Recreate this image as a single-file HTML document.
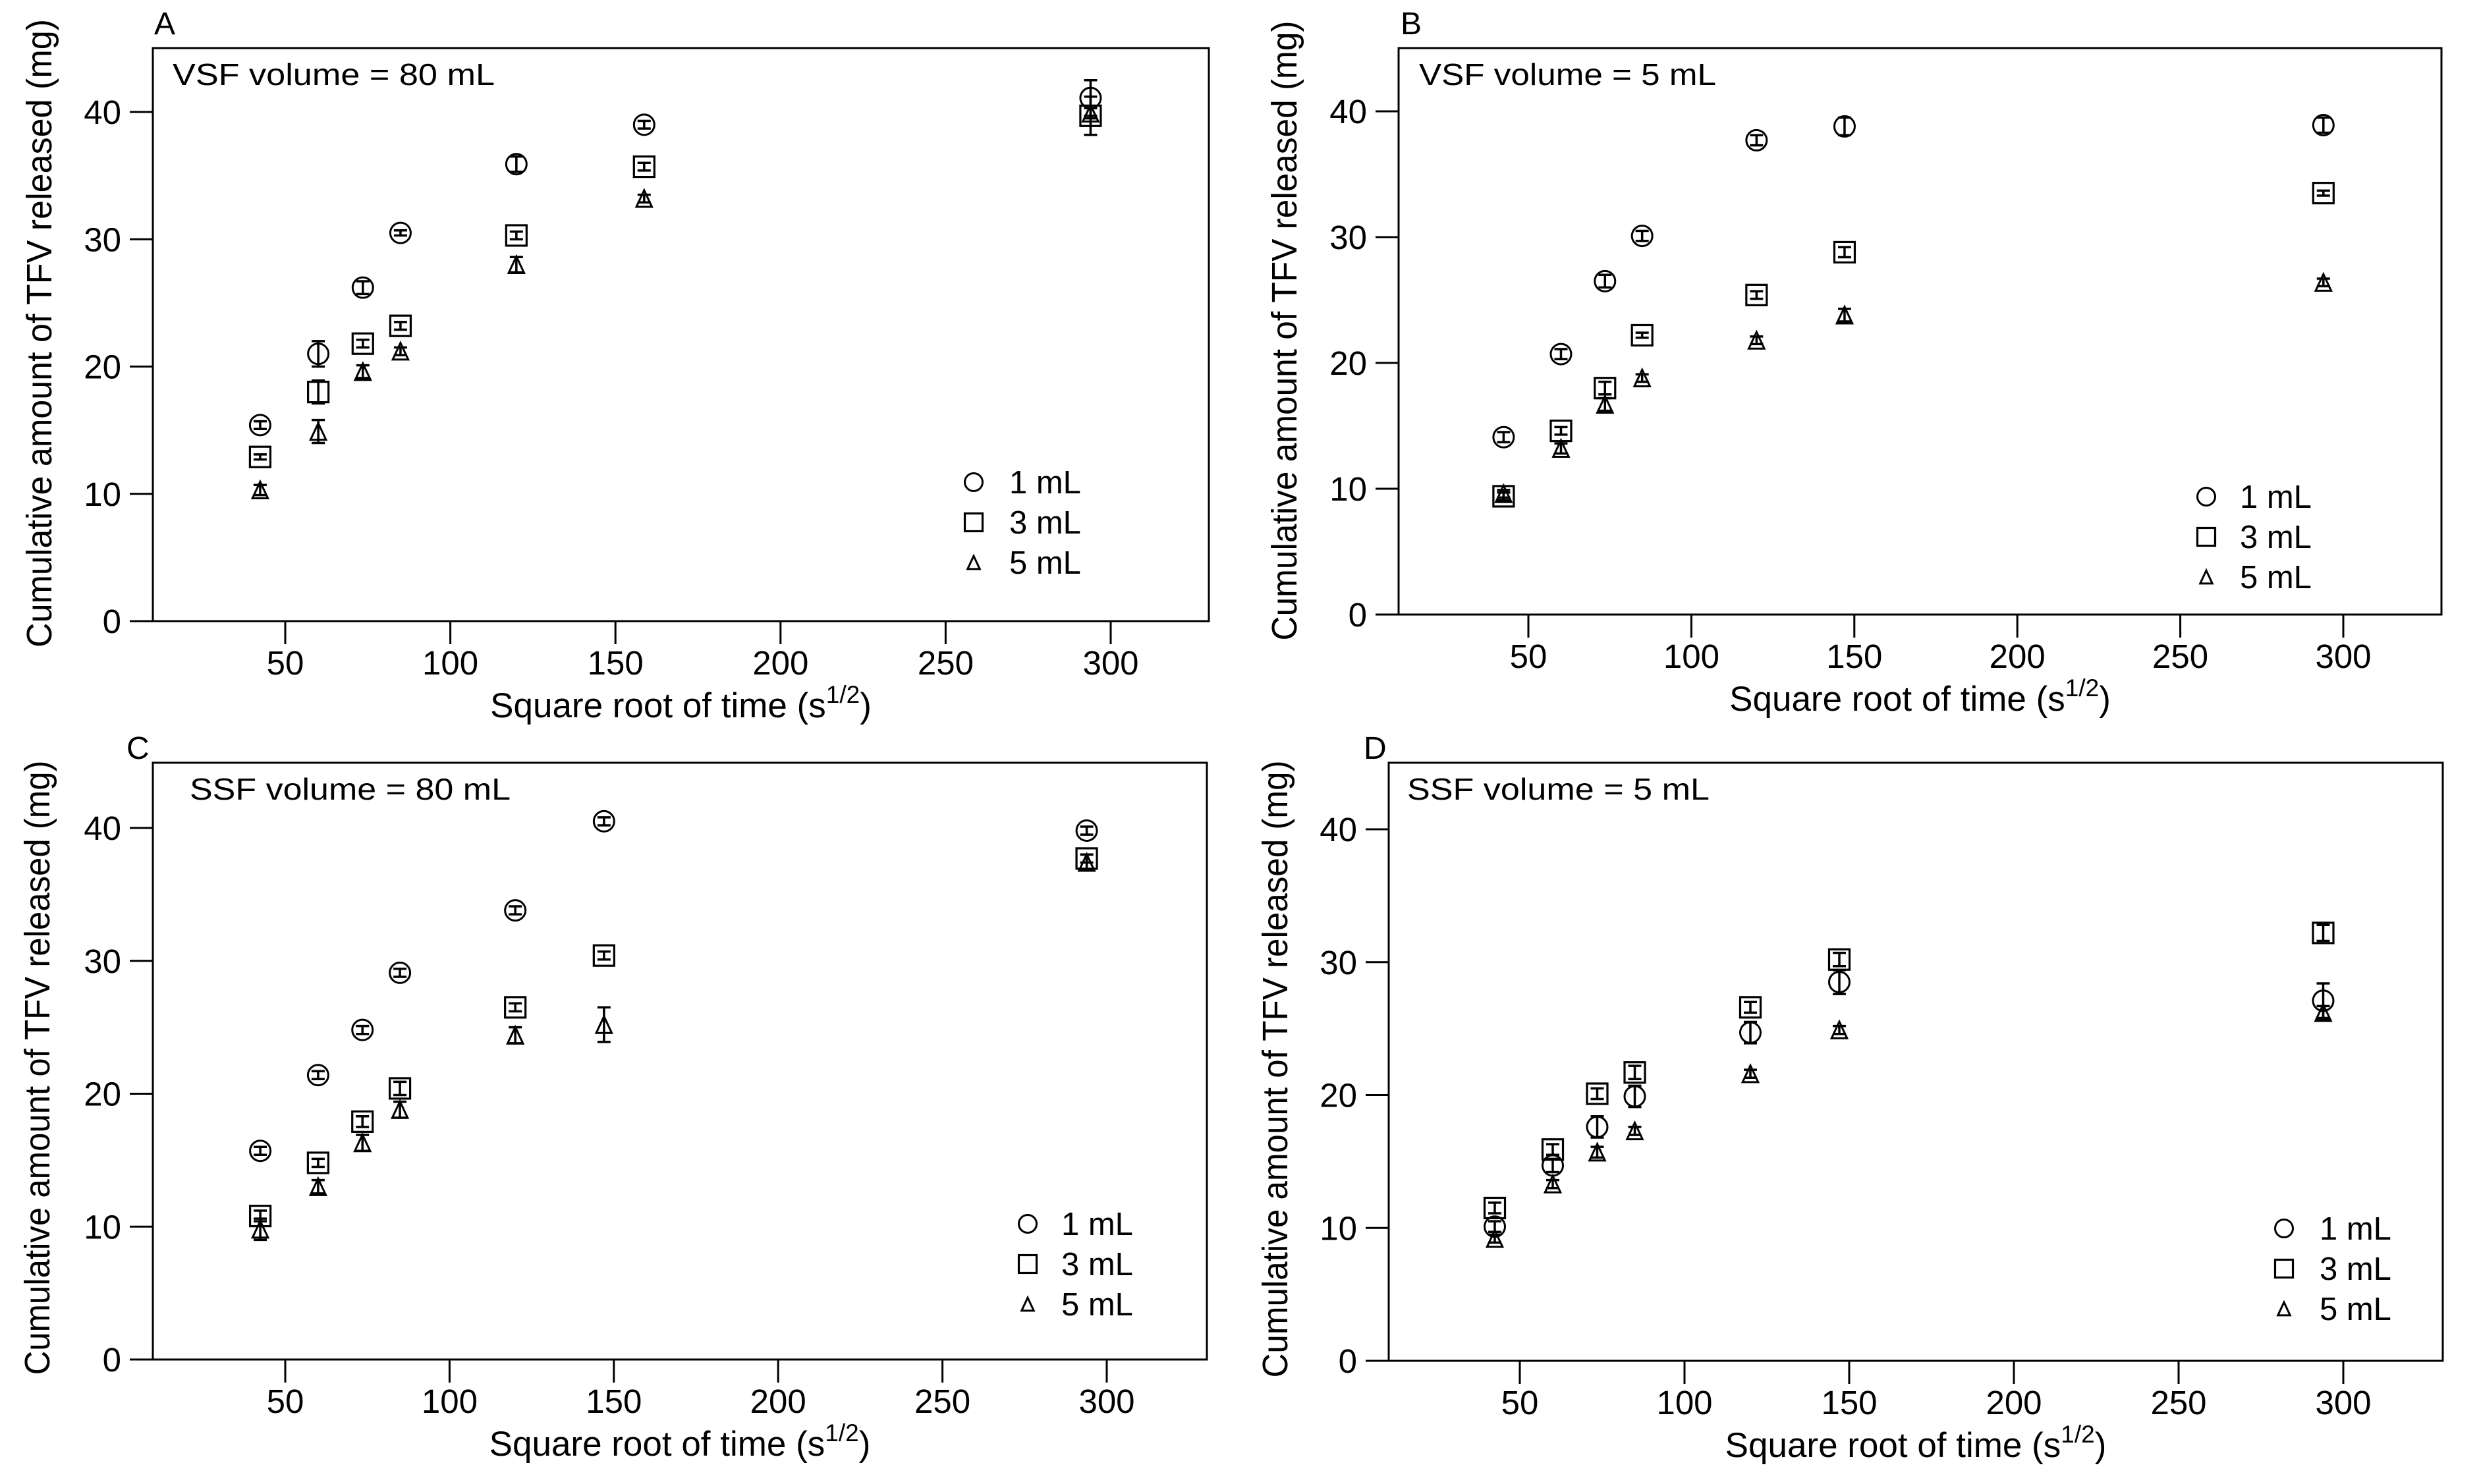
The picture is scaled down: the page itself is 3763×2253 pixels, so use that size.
<!DOCTYPE html>
<html><head><meta charset="utf-8"><style>
html,body{margin:0;padding:0;background:#fff}
svg{display:block}
text{font-family:"Liberation Sans",Arial,sans-serif;fill:#000}
</style></head><body>
<svg id="fig" xmlns="http://www.w3.org/2000/svg" width="3763" height="2253" viewBox="0 0 3763 2253"></svg>
<script>
const xTicks = [50,100,150,200,250,300];
const yTicks = [0,10,20,30,40];
const seriesNames = ['1 mL','3 mL','5 mL'];
const xA = [42.4,60,73.5,84.9,120,158.7,293.9];
const xBCD = [42.4,60,73.5,84.9,120,147,293.9];
// Panel A
const a1 = [15.4,21.0,26.2,30.5,35.9,39.0,41.1];
const a1e = [0.3,1.0,0.5,0.2,0.6,0.3,1.4];
const a3 = [12.9,18.0,21.8,23.2,30.3,35.7,39.7];
const a3e = [0.2,0.9,0.3,0.3,0.3,0.3,1.5];
const a5 = [10.3,14.9,19.6,21.2,28.0,33.2,39.9];
const a5e = [0.4,0.9,0.5,0.3,0.6,0.3,0.4];
// Panel B
const b1 = [14.1,20.7,26.5,30.1,37.7,38.8,38.9];
const b1e = [0.4,0.4,0.5,0.4,0.4,0.7,0.6];
const b3 = [9.4,14.6,18.0,22.2,25.4,28.8,33.5];
const b3e = [0.3,0.3,0.5,0.2,0.3,0.4,0.2];
const b5 = [9.6,13.2,16.7,18.8,21.8,23.8,26.4];
const b5e = [0.3,0.4,0.5,0.3,0.3,0.5,0.3];
// Panel C
const c1 = [15.7,21.4,24.8,29.1,33.8,40.5,39.8];
const c1e = [0.3,0.3,0.3,0.3,0.3,0.3,0.3];
const c3 = [10.8,14.8,17.9,20.4,26.5,30.4,37.7];
const c3e = [0.4,0.3,0.4,0.5,0.3,0.3,0.3];
const c5 = [9.8,13.0,16.3,18.8,24.4,25.2,37.4];
const c5e = [0.8,0.5,0.6,0.6,0.6,1.3,0.6];
// Panel D
const d1 = [10.1,14.7,17.6,19.9,24.7,28.5,27.1];
const d1e = [0.4,0.5,0.8,0.8,0.8,0.9,1.3];
const d3 = [11.5,15.9,20.1,21.7,26.6,30.2,32.2];
const d3e = [0.4,0.4,0.4,0.5,0.4,0.5,0.6];
const d5 = [9.2,13.3,15.7,17.3,21.6,24.9,26.2];
const d5e = [0.3,0.3,0.4,0.3,0.3,0.3,0.5];

const NS='http://www.w3.org/2000/svg';
const svg=document.getElementById('fig');
function mk(tag,attrs,parent){const e=document.createElementNS(NS,tag);for(const k in attrs)e.setAttribute(k,attrs[k]);(parent||svg).appendChild(e);return e;}

const panels=[
 {id:'a',letter:'A',lx:234,ly:52,L:232,R:1835,T:73,y0:943,y40:170,x50:433,x300:1686,note:'VSF volume = 80 mL',nx:262,ny:129,nw:489,
  ytx:60,yty:506,ytl:954,xs:xA,s:[[a1,a1e],[a3,a3e],[a5,a5e]],legX:1478,legTX:1532,legY:[732,793,854]},
 {id:'b',letter:'B',lx:2126,ly:52,L:2123,R:3706,T:73,y0:933,y40:169,x50:2320,x300:3557,note:'VSF volume = 5 mL',nx:2154,ny:129,nw:451,
  ytx:1950,yty:502,ytl:941,xs:xBCD,s:[[b1,b1e],[b3,b3e],[b5,b5e]],legX:3349,legTX:3400,legY:[754,815,876]},
 {id:'c',letter:'C',lx:192,ly:1152,L:232,R:1832,T:1158,y0:2064,y40:1257,x50:433,x300:1680,note:'SSF volume = 80 mL',nx:288,ny:1214,nw:487,
  ytx:57,yty:1621,ytl:933,xs:xBCD,s:[[c1,c1e],[c3,c3e],[c5,c5e]],legX:1560,legTX:1611,legY:[1858,1919,1980]},
 {id:'d',letter:'D',lx:2070,ly:1152,L:2108,R:3708,T:1158,y0:2066,y40:1259,x50:2307,x300:3557,note:'SSF volume = 5 mL',nx:2136,ny:1214,nw:459,
  ytx:1936,yty:1623,ytl:937,xs:xBCD,s:[[d1,d1e],[d3,d3e],[d5,d5e]],legX:3467,legTX:3521,legY:[1865,1926,1987]}
];

function marker(g,kind,cx,cy,sz,fill){
  let e;
  if(kind===0){e=mk('ellipse',{cx:cx,cy:cy,rx:sz*0.5,ry:sz*0.5,fill:fill,stroke:'#000','stroke-width':3},g);}
  else if(kind===1){e=mk('rect',{x:cx-sz*0.5,y:cy-sz*0.5,width:sz,height:sz,fill:fill,stroke:'#000','stroke-width':3.2},g);}
  else {const h=sz*0.9;e=mk('polygon',{points:`${cx},${cy-h/2} ${cx+sz*0.42},${cy+h/2} ${cx-sz*0.42},${cy+h/2}`,fill:fill,stroke:'#000','stroke-width':3,'stroke-linejoin':'miter'},g);}
  return e;
}

panels.forEach(p=>{
  const X=v=>p.x50+(v-50)*(p.x300-p.x50)/250;
  const Y=v=>p.y0-(v)*(p.y0-p.y40)/40;
  const g=mk('g',{});
  
  
  const lt=mk('text',{x:p.lx,y:p.ly,'font-size':48},g);lt.textContent=p.letter;
  
  
  const fr=mk('rect',{x:p.L,y:p.T,width:p.R-p.L,height:p.y0-p.T,fill:'none',stroke:'#000','stroke-width':3},g);
  
  
  yTicks.forEach(t=>{
    const y=Y(t);
    const tk=mk('line',{x1:p.L-35,x2:p.L,y1:y,y2:y,stroke:'#000','stroke-width':3},g);
    
    
    const tl=mk('text',{x:p.L-48,y:y+18,'font-size':51,'text-anchor':'end'},g);tl.textContent=t;
    
    
  });
  xTicks.forEach(t=>{
    const x=X(t);
    const tk=mk('line',{x1:x,x2:x,y1:p.y0,y2:p.y0+35,stroke:'#000','stroke-width':3},g);
    
    
    const tl=mk('text',{x:x,y:p.y0+81,'font-size':51,'text-anchor':'middle'},g);tl.textContent=t;
    
    
  });
  const xt=mk('text',{x:(p.L+p.R)/2,y:p.y0+146,'font-size':53,'text-anchor':'middle'},g);
  xt.innerHTML='Square root of time (s<tspan dy="-22" font-size="37">1/2</tspan><tspan dy="22">)</tspan>';
  
  
  const yt=mk('text',{x:0,y:0,'font-size':54,'text-anchor':'middle',transform:`translate(${p.ytx+18},${p.yty}) rotate(-90)`,textLength:p.ytl,lengthAdjust:'spacingAndGlyphs'},g);
  yt.textContent='Cumulative amount of TFV released (mg)';
  
  
  const nt=mk('text',{x:p.nx,y:p.ny,'font-size':46,textLength:p.nw,lengthAdjust:'spacingAndGlyphs'},g);
  nt.textContent=p.note;
  
  
  p.s.forEach((ser,k)=>{
    const vals=ser[0],errs=ser[1];
    const sg=mk('g',{},g);
    
    
    vals.forEach((v,i)=>{
      const cx=X(p.xs[i]),cy=Y(v),yt2=Y(v+errs[i]),yb=Y(v-errs[i]);
      const eb=mk('path',{d:`M${cx},${yt2}V${yb}M${cx-10},${yt2}H${cx+10}M${cx-10},${yb}H${cx+10}`,stroke:'#000','stroke-width':3.5,fill:'none'},sg);
      
      
      const m=marker(sg,k,cx,cy,k===2?28:31,'none');
      
      
    });
  });
  seriesNames.forEach((nm,k)=>{
    const lg=mk('g',{},g);
    
    
    marker(lg,k,p.legX,p.legY[k],k===2?22:27,'none');
    const tx=mk('text',{x:p.legTX,y:p.legY[k]+17,'font-size':49},lg);tx.textContent=nm;
  });
});
</script>
</body></html>
